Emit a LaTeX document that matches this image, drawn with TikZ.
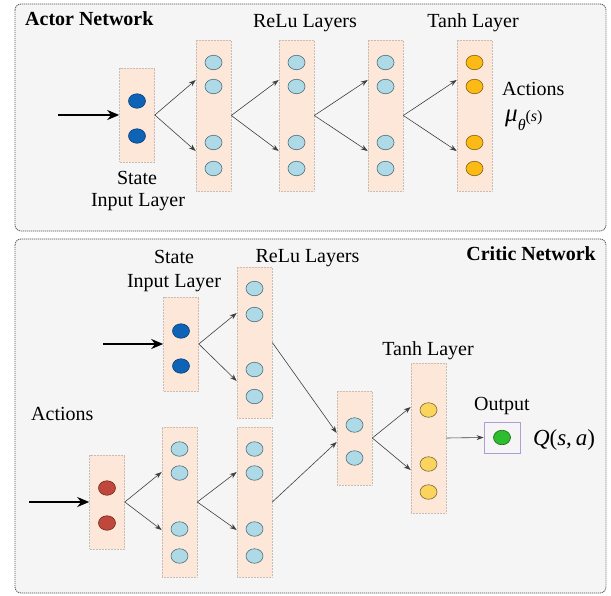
\documentclass[tikz,border=0pt]{standalone}
\usepackage{fontspec}
\setmainfont{Liberation Serif}
\usetikzlibrary{shapes.geometric,arrows.meta,calc}
\definecolor{panelbg}{HTML}{F5F5F5}
\definecolor{panelline}{HTML}{505050}
\definecolor{boxfill}{HTML}{FCE7D9}
\definecolor{boxline}{HTML}{C9BDB3}
\definecolor{lblue}{HTML}{AED9E6}
\definecolor{lblueline}{HTML}{4F6E7C}
\definecolor{dblue}{HTML}{0E63B6}
\definecolor{dblueline}{HTML}{0A427A}
\definecolor{orng}{HTML}{FDB914}
\definecolor{orngline}{HTML}{7E6218}
\definecolor{ylw}{HTML}{FBD45E}
\definecolor{ylwline}{HTML}{76683A}
\definecolor{rred}{HTML}{C0473B}
\definecolor{rredline}{HTML}{76281F}
\definecolor{grn}{HTML}{2DBD2D}
\definecolor{grnline}{HTML}{1A651A}
\definecolor{purp}{HTML}{B29CD4}
\definecolor{arrline}{HTML}{404040}
\tikzset{
  panel/.style={draw=panelline, fill=panelbg, line width=0.8pt, dash pattern=on 1.2pt off 0.8pt, rounded corners=6pt},
  layerbox/.style={draw=boxline, fill=boxfill, line width=0.6pt, dash pattern=on 1pt off 0.5pt, minimum width=35pt, inner sep=0pt},
  neuron/.style={ellipse, draw, line width=0.6pt, minimum width=17pt, minimum height=14.5pt, inner sep=0pt},
  nlb/.style={neuron, fill=lblue, draw=lblueline},
  ndb/.style={neuron, fill=dblue, draw=dblueline},
  nor/.style={neuron, fill=orng, draw=orngline},
  nyl/.style={neuron, fill=ylw, draw=ylwline},
  nrd/.style={neuron, fill=rred, draw=rredline},
  ngr/.style={neuron, fill=grn, draw=grnline},
  arr/.style={draw=arrline, line width=0.6pt, -{Stealth[length=7pt,width=5pt]}},
  inarr/.style={draw=black, line width=2.6pt, -{Stealth[length=12pt,width=10pt]}},
  lbl/.style={font=\fontsize{20}{24}\selectfont, inner sep=0pt, anchor=base},
}
\begin{document}
\begin{tikzpicture}[x=1pt,y=-1pt]
\useasboundingbox (0,0) rectangle (611,595);
% panels
\draw[panel] (15,4) rectangle (606,231);
\draw[panel] (15,239) rectangle (606,593);

% ---------------- Actor network ----------------
\node[layerbox, minimum height=94pt] (ain) at (137,115) {};
\node[layerbox, minimum height=151pt] (a1) at (213.5,115.5) {};
\node[layerbox, minimum height=151pt] (a2) at (296.5,115.5) {};
\node[layerbox, minimum height=151pt] (a3) at (385.5,115.5) {};
\node[layerbox, minimum height=151pt] (a4) at (474.5,115.5) {};

\node[ndb] (ainn1) at ($(ain.center)+(0,-14)$) {};
\node[ndb] (ainn2) at ($(ain.center)+(0,21)$) {};
\foreach \b in {a1,a2,a3}{
  \foreach \i/\d in {1/-53,2/-29,3/27,4/53}{
    \node[nlb] (\b n\i) at ($(\b.center)+(0,\d)$) {};
  }
}
\foreach \i/\d in {1/-53,2/-29,3/27,4/53}{
  \node[nor] (a4n\i) at ($(a4.center)+(0,\d)$) {};
}

\coordinate (ainsrc) at (58,115);
\draw[inarr] (ainsrc) -- (ain.west);
\draw[arr] (ain.east) -- ([yshift=35.5pt]a1.west);
\draw[arr] (ain.east) -- ([yshift=-35.5pt]a1.west);
\draw[arr] (a1.east) -- ([yshift=35.5pt]a2.west);
\draw[arr] (a1.east) -- ([yshift=-35.5pt]a2.west);
\draw[arr] (a2.east) -- ([yshift=35.5pt]a3.west);
\draw[arr] (a2.east) -- ([yshift=-35.5pt]a3.west);
\draw[arr] (a3.east) -- ([yshift=35.5pt]a4.west);
\draw[arr] (a3.east) -- ([yshift=-35.5pt]a4.west);

\node[lbl, anchor=base west, font=\fontsize{20}{24}\selectfont\bfseries] (actortitle) at (25,25) {Actor Network};
\node[lbl] (areluL) at (305,27) {ReLu Layers};
\node[lbl] (atanhL) at (473,27) {Tanh Layer};
\node[lbl, anchor=base west] (aactL) at (502,95) {Actions};
\node[lbl, anchor=base west] (amuL) at (505,121) {{\fontsize{25}{25}\selectfont\textit{μ}}\raisebox{-9pt}{\fontsize{16}{16}\selectfont\textit{θ}}{\fontsize{16}{16}\selectfont(\textit{s})}};
\node[lbl] (astateL) at (137,184) {State};
\node[lbl] (ainputL) at (138,206) {Input Layer};

% ---------------- Critic network ----------------
\node[layerbox, minimum height=94pt] (cs) at (181,344) {};
\node[layerbox, minimum height=151pt] (cr1) at (254.5,342.5) {};
\node[layerbox, minimum height=94pt] (ca) at (107,502) {};
\node[layerbox, minimum height=150pt] (cl1) at (179.5,502) {};
\node[layerbox, minimum height=150pt] (cl2) at (254.5,502) {};
\node[layerbox, minimum height=94pt] (cm) at (354.5,438) {};
\node[layerbox, minimum height=150pt] (ct) at (428.5,438) {};
\node[draw=purp, fill=panelbg, line width=0.9pt, minimum width=36pt, minimum height=31pt, inner sep=0pt] (out) at (502,437.5) {};

\node[ndb] (csn1) at ($(cs.center)+(0,-13)$) {};
\node[ndb] (csn2) at ($(cs.center)+(0,22)$) {};
\foreach \i/\d in {1/-54,2/-28,3/27,4/54}{
  \node[nlb] (cr1n\i) at ($(cr1.center)+(0,\d)$) {};
}
\node[nrd] (can1) at ($(ca.center)+(0,-14)$) {};
\node[nrd] (can2) at ($(ca.center)+(0,21)$) {};
\foreach \b in {cl1,cl2}{
  \foreach \i/\d in {1/-53,2/-29,3/27,4/54}{
    \node[nlb] (\b n\i) at ($(\b.center)+(0,\d)$) {};
  }
}
\node[nlb] (cmn1) at ($(cm.center)+(0,-13)$) {};
\node[nlb] (cmn2) at ($(cm.center)+(0,20)$) {};
\foreach \i/\d in {1/-28,2/26,3/54}{
  \node[nyl] (ctn\i) at ($(ct.center)+(0,\d)$) {};
}
\node[ngr] (outn) at (out.center) {};

\coordinate (cssrc) at (103,344);
\coordinate (casrc) at (29,502);
\draw[inarr] (cssrc) -- (cs.west);
\draw[inarr] (casrc) -- (ca.west);
\draw[arr] (cs.east) -- ([yshift=29.5pt]cr1.west);
\draw[arr] (cs.east) -- ([yshift=-38.5pt]cr1.west);
\draw[arr] (ca.east) -- ([yshift=30pt]cl1.west);
\draw[arr] (ca.east) -- ([yshift=-28pt]cl1.west);
\draw[arr] (cl1.east) -- ([yshift=30pt]cl2.west);
\draw[arr] (cl1.east) -- ([yshift=-28pt]cl2.west);
\draw[arr] (cr1.east) -- ([yshift=5pt]cm.west);
\draw[arr] (cl2.east) -- ([yshift=-4pt]cm.west);
\draw[arr] (cm.east) -- ([yshift=31pt]ct.west);
\draw[arr] (cm.east) -- ([yshift=-32pt]ct.west);
\draw[arr] (ct.east) -- (out.west);

\node[lbl, anchor=base east, font=\fontsize{20}{24}\selectfont\bfseries] (critictitle) at (596,260) {Critic Network};
\node[lbl] (cstateL) at (174,263) {State};
\node[lbl] (cinputL) at (174,287) {Input Layer};
\node[lbl] (creluL) at (307.5,262) {ReLu Layers};
\node[lbl, anchor=base west] (cactL) at (31,420) {Actions};
\node[lbl] (ctanhL) at (428,355) {Tanh Layer};
\node[lbl] (coutL) at (502,410) {Output};
\node[lbl, font=\fontsize{23}{26}\selectfont] (cqL) at (564,445) {\textit{Q}(\textit{s},\,\textit{a})};
\end{tikzpicture}
\end{document}
